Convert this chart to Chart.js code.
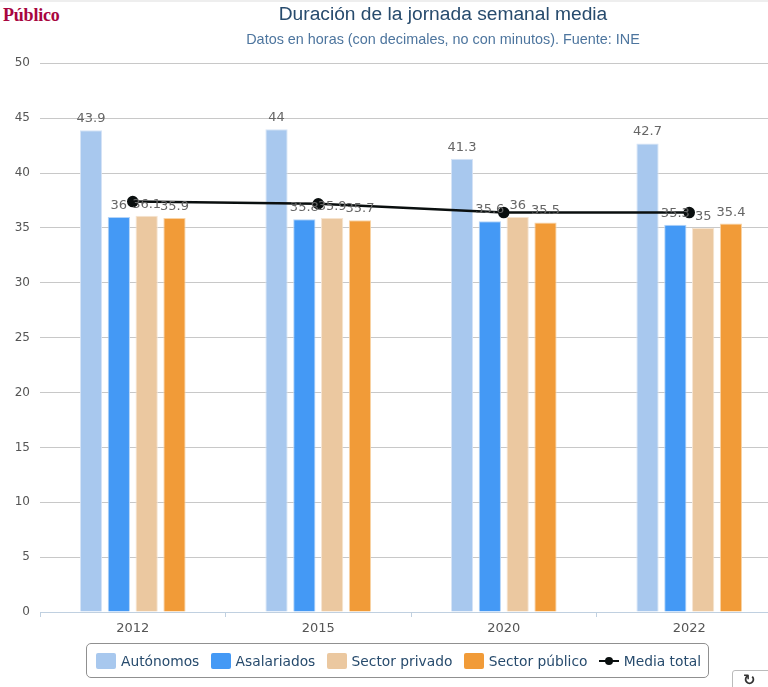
<!DOCTYPE html>
<html>
<head>
<meta charset="utf-8">
<script src="https://cdn.jsdelivr.net/npm/chart.js@4"></script>
<style>
  html,body{margin:0;padding:0;background:#fff;width:768px;height:687px;overflow:hidden;}
  #topbar{position:absolute;left:0;top:0;width:768px;height:2px;background:#eee;}
  #logo{position:absolute;left:3px;top:5px;font:bold 18px "Liberation Serif",serif;color:#a8063f;letter-spacing:-0.2px;}
  canvas{position:absolute;left:0;top:0;}
  #legend{position:absolute;left:86px;top:643px;width:623px;height:35px;box-sizing:border-box;border:1px solid #909090;border-radius:5px;
    display:flex;align-items:center;padding-left:9px;font:13.8px "DejaVu Sans",sans-serif;color:#274b6d;white-space:nowrap;}
  #legend .sw{display:inline-block;width:20px;height:16px;border-radius:2px;margin-right:5px;}
  #legend span.it{display:flex;align-items:center;margin-right:11.3px;}
  #legend svg{margin-right:5px;}
  #refresh{position:absolute;left:732px;top:670px;width:40px;height:24px;box-sizing:border-box;border:1px solid #bbb;border-radius:3px;background:#fff;
    font:bold 15px "DejaVu Sans",sans-serif;color:#333;padding-left:10px;}
</style>
</head>
<body>
<div id="topbar"></div>
<div id="logo">Público</div>
<canvas id="chart" width="886" height="687"></canvas>
<div id="legend"></div>
<div id="refresh">↻</div>
<script>
const years = ['2012','2015','2020','2022'];
const autonomos = [43.9,44,41.3,42.7];
const asalariados = [36,35.8,35.6,35.3];
const privado = [36.1,35.9,36,35];
const publico = [35.9,35.7,35.5,35.4];
const media = [37.4,37.2,36.4,36.4];

const barOpts = {type:'bar',categoryPercentage:0.6,barPercentage:0.8,borderWidth:1,order:2};

// value labels over the bars
const valueLabels = {
  id:'valueLabels',
  afterDatasetsDraw(chart){
    const ctx = chart.ctx;
    ctx.save();
    ctx.font = '13px "DejaVu Sans", sans-serif';
    ctx.fillStyle = '#666';
    ctx.textAlign = 'center';
    ctx.textBaseline = 'alphabetic';
    chart.data.datasets.forEach((ds,i)=>{
      if(ds.type!=='bar') return;
      chart.getDatasetMeta(i).data.forEach((b,j)=>{
        ctx.fillText(String(ds.data[j]), b.x, b.y-8);
      });
    });
    ctx.restore();
  }
};

const chart = new Chart(document.getElementById('chart').getContext('2d'),{
  data:{
    labels:years,
    datasets:[
      {...barOpts,label:'Autónomos',data:autonomos,backgroundColor:'#a8c8ee',borderColor:'#d6e4f6'},
      {...barOpts,label:'Asalariados',data:asalariados,backgroundColor:'#4499f5',borderColor:'#b4d4f8'},
      {...barOpts,label:'Sector privado',data:privado,backgroundColor:'#ebc8a0',borderColor:'#f6e4d0'},
      {...barOpts,label:'Sector público',data:publico,backgroundColor:'#f19b38',borderColor:'#f8d4a8'},
      {type:'line',label:'Media total',data:media,borderColor:'#0a0f0f',backgroundColor:'#0a0f0f',borderWidth:2.5,
        pointRadius:4.5,pointHoverRadius:4.5,tension:0,order:1}
    ]
  },
  options:{
    responsive:false,
    animation:false,
    layout:{padding:{left:0,right:0,top:0,bottom:50}},
    plugins:{
      legend:{display:false},
      tooltip:{enabled:false},
      title:{display:true,text:'Duración de la jornada semanal media',color:'#274b6d',
        font:{family:'"Liberation Sans", Arial, sans-serif',size:19.2,weight:'normal'},padding:{top:3,bottom:4}},
      subtitle:{display:true,text:'Datos en horas (con decimales, no con minutos). Fuente: INE',color:'#4d759e',
        font:{family:'"Liberation Sans", Arial, sans-serif',size:14.4,weight:'normal'},padding:{top:1,bottom:15}}
    },
    scales:{
      x:{
        grid:{offset:true,drawOnChartArea:false,drawTicks:true,tickLength:5,color:'#c0d0e0'},
        border:{color:'#c0d0e0',width:1},
        ticks:{color:'#555',font:{family:'"DejaVu Sans", sans-serif',size:13},padding:4,maxRotation:0},
        afterFit(s){s.height=25;}
      },
      y:{
        min:0,max:50,
        grid:{color:'#c8c8c8',drawTicks:false},
        border:{display:false},
        ticks:{stepSize:5,color:'#555',font:{family:'"DejaVu Sans", sans-serif',size:12},padding:10},
        afterFit(s){s.width=40;}
      },
      // empty axis: keeps the plot short of the canvas edge while the titles stay centred on the full width
      spacer:{
        position:'right',
        grid:{display:false},
        border:{display:false},
        ticks:{display:false},
        afterFit(s){s.width=104;}
      }
    }
  },
  plugins:[valueLabels]
});

// legend box from the chart datasets
const legend = document.getElementById('legend');
chart.data.datasets.forEach(ds=>{
  const it = document.createElement('span');
  it.className = 'it';
  if(ds.type==='bar'){
    it.innerHTML = `<i class="sw" style="background:${ds.backgroundColor}"></i>${ds.label}`;
  }else{
    it.innerHTML = `<svg width="20" height="10"><line x1="0" y1="5" x2="20" y2="5" stroke="#0a0f0f" stroke-width="2"/><circle cx="10" cy="5" r="4" fill="#0a0f0f"/></svg>${ds.label}`;
  }
  legend.appendChild(it);
});
</script>
</body>
</html>
